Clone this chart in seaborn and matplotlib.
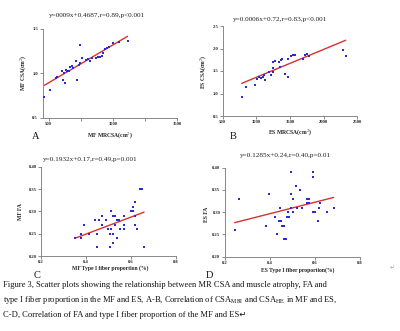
import numpy as np
import pandas as pd
import matplotlib
matplotlib.use("Agg")
import matplotlib.pyplot as plt
import seaborn as sns

# panel A: MF MRCSA vs MF CSA
a_x = [466, 508, 555, 565, 612, 627, 607, 617, 633, 643, 659, 670, 680, 690, 716, 721,
       737, 742, 747, 758, 794, 810, 820, 836, 867, 885, 898, 914, 924, 940, 955, 971,
       1002, 1047, 1115]
a_y = [0.74, 0.82, 0.95, 0.96, 0.93, 0.89, 1.03, 1.01, 1.04, 1.03, 1.03, 1.07, 1.08, 1.06,
       1.14, 0.93, 1.10, 1.12, 1.32, 1.17, 1.15, 1.16, 1.14, 1.17, 1.17, 1.18, 1.19, 1.20,
       1.23, 1.27, 1.29, 1.30, 1.34, 1.35, 1.37]
a_fit = (0.00085, 0.47)
a_title = "y=0009x+0.4687,r=0.89,p<0.001"

# panel B: ES MRCSA vs ES CSA
b_x = [782, 846, 980, 1014, 1044, 1065, 1094, 1128, 1114, 1193, 1213, 1243, 1252, 1243,
       1277, 1341, 1362, 1381, 1351, 1430, 1475, 1475, 1510, 1549, 1579, 1689, 1727, 1757,
       1787, 2292, 2328]
b_y = [0.92, 1.15, 1.20, 1.33, 1.36, 1.35, 1.37, 1.29, 1.41, 1.48, 1.42, 1.57, 1.48, 1.69,
       1.72, 1.71, 1.74, 1.77, 1.58, 1.44, 1.36, 1.77, 1.84, 1.86, 1.86, 1.77, 1.86, 1.87,
       1.84, 1.96, 1.84]
b_fit = (0.00062, 0.74)
b_title = "y=0.0006x+0.72,r=0.83,p<0.001"

# panel C: MF type I fiber proportion vs MF FA
c_x = [0.350, 0.380, 0.380, 0.392, 0.412, 0.441, 0.451, 0.451, 0.460, 0.470, 0.470, 0.490,
       0.500, 0.510, 0.507, 0.507, 0.510, 0.519, 0.519, 0.519, 0.530, 0.530, 0.540, 0.540,
       0.549, 0.552, 0.570, 0.570, 0.570, 0.600, 0.609, 0.619, 0.619, 0.619, 0.629, 0.641,
       0.650, 0.659, 0.609]
c_y = [0.24, 0.25, 0.24, 0.27, 0.25, 0.28, 0.25, 0.22, 0.28, 0.29, 0.27, 0.28,
       0.26, 0.30, 0.25, 0.22, 0.26, 0.29, 0.25, 0.23, 0.29, 0.27, 0.28, 0.24,
       0.28, 0.26, 0.29, 0.27, 0.26, 0.30, 0.31, 0.32, 0.29, 0.27, 0.26, 0.35,
       0.35, 0.22, 0.30]
c_fit = (0.19, 0.173)
c_title = "y=0.1932x+0.17,r=0.49,p=0.001"

# panel D: ES type I fiber proportion vs ES FA
d_x = [0.244, 0.265, 0.383, 0.395, 0.424, 0.433, 0.439, 0.445, 0.448, 0.454, 0.463, 0.463,
       0.472, 0.475, 0.484, 0.481, 0.493, 0.493, 0.493, 0.503, 0.503, 0.514, 0.522, 0.533,
       0.543, 0.565, 0.573, 0.565, 0.573, 0.593, 0.593, 0.593, 0.602, 0.614, 0.617, 0.622,
       0.652, 0.683]
d_y = [0.26, 0.33, 0.27, 0.34, 0.29, 0.25, 0.28, 0.31, 0.28, 0.27, 0.27, 0.24,
       0.24, 0.29, 0.29, 0.30, 0.31, 0.34, 0.39, 0.33, 0.30, 0.36, 0.31, 0.35,
       0.31, 0.33, 0.33, 0.32, 0.32, 0.39, 0.38, 0.30, 0.30, 0.28, 0.31, 0.32,
       0.30, 0.31]
d_fit = (0.129, 0.245)
d_title = "y=0.1285x+0.24,r=0.40,p=0.01"

caption = ["Figure 3, Scatter plots showing the relationship between MR CSA and muscle atrophy, FA and",
           "type I fiber proportion in the MF and ES, A-B, Correlation of CSA$_{\\mathrm{MRI}}$ and CSA$_{\\mathrm{HE}}$ in MF and ES,",
           "C-D, Correlation of FA and type I fiber proportion of the MF and ES\u21b5"]

sns.set_style("ticks")
plt.rcParams['font.family'] = ['Liberation Serif', 'DejaVu Sans']
plt.rcParams['mathtext.fontset'] = 'stix'

W, H = 400, 331
fig = plt.figure(figsize=(W / 100, H / 100), dpi=100)
fig.patch.set_facecolor("white")

def px_axes(l, r, t, b):
    return fig.add_axes([l / W, 1 - b / H, (r - l) / W, (b - t) / H])

def px_text(x, y, s, **kw):
    fig.text(x / W, 1 - y / H, s, ha=kw.pop("ha", "center"), va=kw.pop("va", "center"), **kw)

panels = [
    dict(x=a_x, y=a_y, fit=a_fit, title=a_title, box=(42.5, 177, 29, 118),
         xlim=(453, 1500), ylim=(0.5, 1.5), xt=[500, 1000, 1500], yt=[0.5, 1.0, 1.5],
         xfmt="{:.0f}", yfmt="{:.1f}", minor=[750, 1250],
         xlab="MF MRCSA(cm$^2$)", ylab="MF CSA(cm$^2$)",
         tpos=(97, 15.5), xlpos=(110, 136), ylpos=(24, 73), letter="A", lpos=(36, 139)),
    dict(x=b_x, y=b_y, fit=b_fit, title=b_title, box=(222.7, 357.3, 26, 116),
         xlim=(500, 2500), ylim=(0.5, 2.5), xt=[500, 1000, 1500, 2000, 2500],
         yt=[0.5, 1.0, 1.5, 2.0, 2.5], xfmt="{:.0f}", yfmt="{:.1f}", minor=[],
         xlab="ES MRCSA(cm$^2$)", ylab="ES CSA(cm$^2$)",
         tpos=(280, 19), xlpos=(290, 133), ylpos=(204, 72), letter="B", lpos=(233, 139)),
    dict(x=c_x, y=c_y, fit=c_fit, title=c_title, box=(41, 175.7, 166.7, 256),
         xlim=(0.2, 0.8), ylim=(0.2, 0.4), xt=[0.2, 0.4, 0.6, 0.8],
         yt=[0.20, 0.25, 0.30, 0.35, 0.40], xfmt="{:.1f}", yfmt="{:.2f}", minor=[],
         xlab="MF Type I fiber proportion (%)", ylab="MF FA",
         tpos=(90, 159), xlpos=(110, 268.5), ylpos=(20, 212), letter="C", lpos=(37, 278.5)),
    dict(x=d_x, y=d_y, fit=d_fit, title=d_title, box=(224.7, 360, 167.7, 256.7),
         xlim=(0.2, 0.8), ylim=(0.2, 0.4), xt=[0.2, 0.4, 0.6, 0.8],
         yt=[0.20, 0.25, 0.30, 0.35, 0.40], xfmt="{:.1f}", yfmt="{:.2f}", minor=[],
         xlab="ES Type I fiber proportion(%)", ylab="ES FA",
         tpos=(285, 155), xlpos=(298, 270), ylpos=(206, 214), letter="D", lpos=(209, 278.5)),
]

for p in panels:
    ax = px_axes(*p["box"])
    df = pd.DataFrame({"x": p["x"], "y": p["y"]})
    sns.scatterplot(data=df, x="x", y="y", ax=ax, marker="s", s=4,
                    color="#2b2bd6", linewidth=0, zorder=3)
    slope, icpt = p["fit"]
    xs = np.array([df.x.min(), df.x.max()])
    sns.lineplot(x=xs, y=slope * xs + icpt, ax=ax, color="#d93030", linewidth=1.0, zorder=2)
    ax.set_xlim(*p["xlim"])
    ax.set_ylim(*p["ylim"])
    ax.set_xticks(p["xt"])
    ax.set_yticks(p["yt"])
    ax.set_xticklabels([p["xfmt"].format(v) for v in p["xt"]])
    ax.set_yticklabels([p["yfmt"].format(v) for v in p["yt"]])
    if p["minor"]:
        ax.set_xticks(p["minor"], minor=True)
    ax.tick_params(axis="both", which="both", length=2, width=0.6, color="#777777",
                   labelsize=3.3, pad=1.2, labelcolor="#222222")
    for lab in ax.get_xticklabels() + ax.get_yticklabels():
        lab.set_fontweight("bold")
    sns.despine(ax=ax)
    for s in ["left", "bottom"]:
        ax.spines[s].set_color("#888888")
        ax.spines[s].set_linewidth(0.7)
    ax.set_xlabel("")
    ax.set_ylabel("")
    ax.set_facecolor("white")
    px_text(*p["tpos"], p["title"], fontsize=5.2, color="#222222")
    px_text(*p["xlpos"], p["xlab"], fontsize=4.1, fontweight="bold", color="#222222")
    px_text(*p["ylpos"], p["ylab"], fontsize=4.1, fontweight="bold", color="#222222",
            rotation=90)
    px_text(*p["lpos"], p["letter"], fontsize=7.5, color="#111111", va="baseline")

for i, line in enumerate(caption):
    px_text(3, 285 + i * 15, line, ha="left", fontsize=6.1, color="#111111")
px_text(392, 268, "\u21b5", fontsize=4, color="#999999")

fig.savefig("out.png", dpi=100, facecolor="white")
